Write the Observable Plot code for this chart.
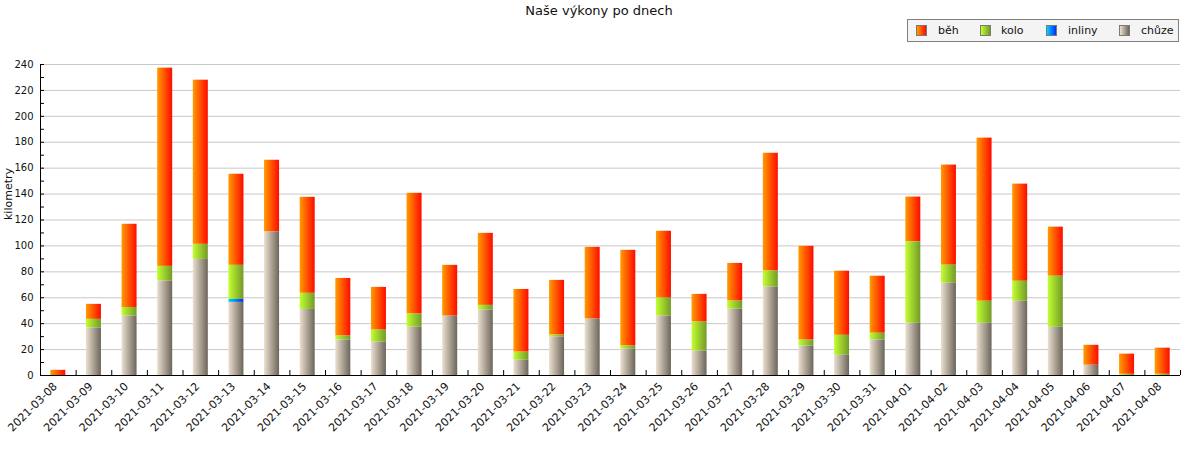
<!DOCTYPE html>
<html><head><meta charset="utf-8">
<script src="https://cdn.jsdelivr.net/npm/d3@7"></script>
<script src="https://cdn.jsdelivr.net/npm/@observablehq/plot@0.6"></script>
<style>
body{margin:0;background:#fff;font-family:"DejaVu Sans",sans-serif;}
#wrap{width:1200px;}
#head{position:relative;height:50px;}
#title{position:absolute;left:0;width:1198px;top:3px;text-align:center;font-size:13px;color:#111;}
#legend{position:absolute;left:907px;top:19px;width:270px;height:21px;border:1px solid #808080;background:#f4f4f4;font-size:11px;color:#111;}
.lt{position:absolute;top:0;line-height:21px;}
.sw{position:absolute;width:9px;height:9px;border:1px solid #7a7a7a;top:5px;}
svg{display:block;}
</style>
</head><body>
<div id="wrap">
  <div id="head"><div id="title">Naše výkony po dnech</div><div id="legend"></div></div>
  <div id="chart"></div>
</div>
<script>
const dates = ["2021-03-08","2021-03-09","2021-03-10","2021-03-11","2021-03-12","2021-03-13","2021-03-14","2021-03-15",
  "2021-03-16","2021-03-17","2021-03-18","2021-03-19","2021-03-20","2021-03-21","2021-03-22","2021-03-23",
  "2021-03-24","2021-03-25","2021-03-26","2021-03-27","2021-03-28","2021-03-29","2021-03-30","2021-03-31",
  "2021-04-01","2021-04-02","2021-04-03","2021-04-04","2021-04-05","2021-04-06","2021-04-07","2021-04-08"];
const beh    = [4, 11.6, 64.2, 153.0, 126.7, 70.3, 55.4, 74.1, 44.5, 33.0, 93.2, 39.2, 55.6, 48.4, 42.2, 55.4,
                73.9, 51.6, 21.4, 29.1, 90.9, 72.4, 49.5, 44.0, 34.6, 77.3, 125.9, 75.0, 37.9, 15.4, 15.6, 20.2];
const kolo   = [0, 6.7, 6.7, 11.3, 11.6, 26.3, 0, 12.4, 3.1, 9.2, 10.1, 0, 3.6, 6.2, 1.6, 0,
                2.4, 13.9, 22.4, 6.2, 12.4, 4.6, 15.4, 5.2, 62.8, 13.9, 17.0, 15.4, 39.4, 0, 0.9, 0.9];
const inliny = [0, 0, 0, 0, 0, 2.3, 0, 0, 0, 0, 0, 0, 0, 0, 0, 0,
                0, 0, 0, 0, 0, 0, 0, 0, 0, 0, 0, 0, 0, 0, 0, 0];
const chuze  = [0, 36.6, 45.8, 72.9, 89.6, 56.4, 110.7, 51.0, 27.3, 25.8, 37.3, 45.8, 50.5, 11.8, 29.6, 43.5,
                20.3, 45.8, 18.8, 51.2, 68.2, 22.7, 15.6, 27.4, 40.3, 71.2, 40.3, 57.3, 37.2, 7.9, 0, 0];
const seriesNames = ["běh", "kolo", "inliny", "chůze"];
const seriesValues = [beh, kolo, inliny, chuze];
const gradStops = [["#ff9c00", "#ff0a00"], ["#c2ff30", "#739a28"], ["#00d2ff", "#0030ff"], ["#ece0cf", "#6c655a"]];
const stackOrder = ["chůze", "inliny", "kolo", "běh"];
const yTicks = d3.range(0, 241, 20);
const yMinor = d3.range(0, 241, 10);

const rows = [];
dates.forEach((d, i) => seriesNames.forEach((s, j) => rows.push({date: d, type: s, value: seriesValues[j][i]})));

const W = 1200, mL = 40, mR = 20;
const step = (W - mL - mR) / dates.length;
const barW = 15;
const inset = (step - barW) / 2;

const svg = Plot.plot({
  width: W, height: 400,
  marginTop: 14, marginBottom: 75, marginLeft: mL, marginRight: mR,
  style: {fontFamily: "DejaVu Sans", fontSize: "10px", color: "#111", background: "#fff"},
  x: {type: "band", domain: dates, padding: 0, round: false, label: null},
  y: {domain: [0, 240], label: null},
  color: {type: "ordinal", domain: seriesNames, range: seriesNames.map((s, i) => `url(#grad${i})`)},
  marks: [
    Plot.gridY(yTicks.slice(1), {stroke: "#c8c8c8", strokeOpacity: 1}),
    Plot.barY(rows, {x: "date", y: "value", fill: "type", order: stackOrder, insetLeft: inset, insetRight: inset}),
    Plot.axisY({ticks: yMinor, tickSize: 4, dx: 4, tickFormat: () => "", label: null, stroke: "#000"}),
    Plot.axisY({ticks: yTicks, tickSize: 0, tickPadding: 7, label: null}),
    Plot.axisX({tickSize: 5, dy: -5, dx: step / 2, tickFormat: () => "", label: null, stroke: "#000"}),
    Plot.axisX({tickSize: 0, tickPadding: 9, dx: -3, tickRotate: -45, label: null, fontSize: 11}),
    Plot.ruleY([0], {stroke: "#000"}),
    Plot.frame({anchor: "left", stroke: "#000"}),
    Plot.text(["kilometry"], {frameAnchor: "left", rotate: -90, dx: -32, fontSize: 11})
  ]
});

const defs = d3.select(svg).insert("defs", ":first-child");
gradStops.forEach((g, i) => {
  const lg = defs.append("linearGradient").attr("id", `grad${i}`).attr("x1", "0").attr("x2", "1").attr("y1", "0").attr("y2", "0");
  lg.append("stop").attr("offset", "0%").attr("stop-color", g[0]);
  lg.append("stop").attr("offset", "100%").attr("stop-color", g[1]);
});
document.getElementById("chart").appendChild(svg);

// legend
const legendOffsets = [[8, 30], [72, 93], [138, 160], [211, 233]];
const leg = document.getElementById("legend");
seriesNames.forEach((s, i) => {
  const sw = document.createElement("div");
  sw.className = "sw";
  sw.style.left = legendOffsets[i][0] + "px";
  sw.style.background = `linear-gradient(to right, ${gradStops[i][0]}, ${gradStops[i][1]})`;
  leg.appendChild(sw);
  const t = document.createElement("div");
  t.className = "lt";
  t.style.left = legendOffsets[i][1] + "px";
  t.textContent = s;
  leg.appendChild(t);
});
</script>
</body></html>
